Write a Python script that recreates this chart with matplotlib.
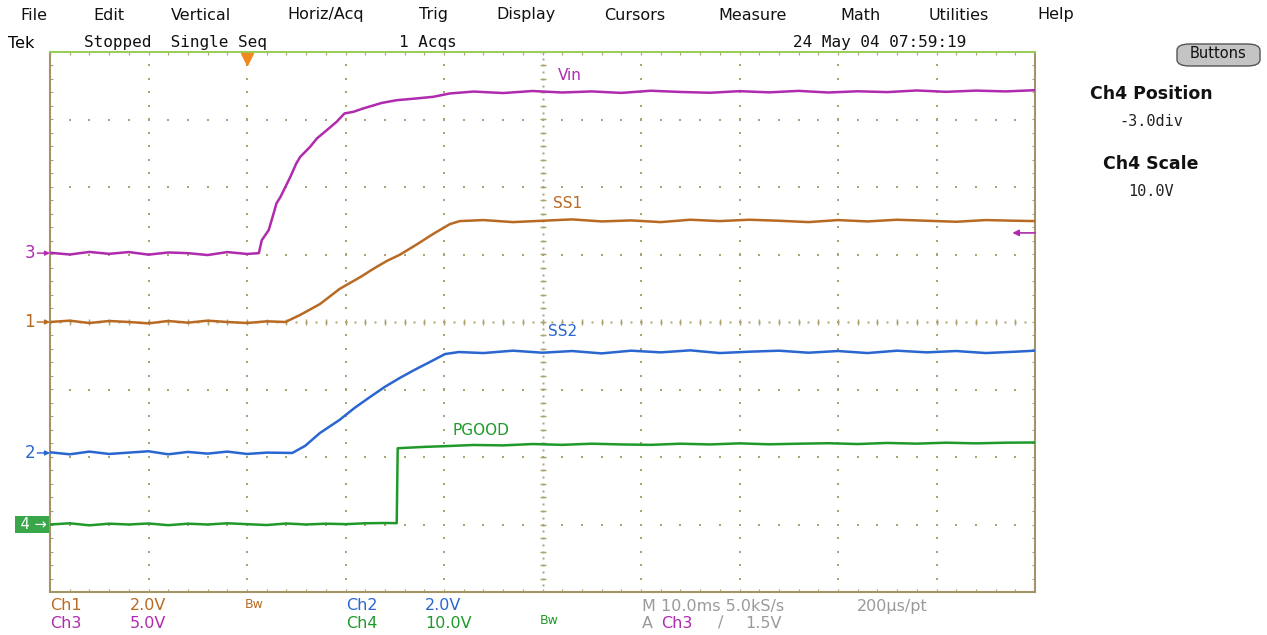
import matplotlib
matplotlib.use("Agg")
import matplotlib.pyplot as plt
from matplotlib.patches import FancyBboxPatch
import numpy as np

# ---------------- data (time in ms, values in volts) ----------------
vin_t = [0, 2, 4, 6, 8, 10, 12, 14, 16, 18, 20, 21.2,
         21.5, 22.2, 22.5, 23.0, 23.4, 23.9, 24.4, 25.0, 25.4, 26.4, 27.1, 28.1,
         29.1, 29.9, 30.8, 31.8, 33.7, 35.2, 37.2, 38.9, 40.6,
         43, 46, 49, 52, 55, 58, 61, 64, 67, 70, 73, 76, 79, 82, 85, 88, 91, 94, 97, 100]
vin_v = [0.03, -0.10, 0.09, -0.05, 0.08, -0.11, 0.05, 0.0, -0.14, 0.08, -0.06, 0.0,
         0.96, 1.70, 2.44, 3.70, 4.17, 4.91, 5.65, 6.64, 7.13, 7.87, 8.50, 9.11,
         9.73, 10.35, 10.47, 10.72, 11.13, 11.33, 11.46, 11.58, 11.83,
         11.97, 11.86, 12.01, 11.90, 11.98, 11.87, 12.03, 11.94, 11.88, 12.00, 11.91, 12.02,
         11.90, 11.99, 11.93, 12.05, 11.95, 12.04, 11.98, 12.07]

ss1_t = [0, 2, 4, 6, 8, 10, 12, 14, 16, 18, 20, 22,
         23.9, 25.4, 27.4, 29.4, 31.5, 32.8, 34.2, 35.5, 37.3, 38.9, 40.6, 41.6,
         44, 47, 50, 53, 56, 59, 62, 65, 68, 71, 74, 77, 80, 83, 86, 89, 92, 95, 98, 100]
ss1_v = [0.0, 0.04, -0.03, 0.03, 0.0, -0.04, 0.03, -0.02, 0.04, 0.0, -0.03, 0.02,
         0.0, 0.21, 0.53, 0.98, 1.33, 1.57, 1.81, 1.99, 2.31, 2.61, 2.90, 2.99,
         3.02, 2.96, 3.00, 3.04, 2.98, 3.01, 2.96, 3.03, 2.99, 3.03, 3.00, 2.96,
         3.02, 2.98, 3.03, 3.00, 2.97, 3.02, 3.00, 2.99]

ss2_t = [0, 2, 4, 6, 8, 10, 12, 14, 16, 18, 20, 22,
         24.6, 25.9, 27.4, 29.4, 30.9, 32.5, 34.0, 35.5, 37.0, 38.6, 40.1, 41.5,
         44, 47, 50, 53, 56, 59, 62, 65, 68, 71, 74, 77, 80, 83, 86, 89, 92, 95, 98, 100]
ss2_v = [0.02, -0.04, 0.04, -0.03, 0.01, 0.05, -0.04, 0.03, -0.02, 0.04, -0.03, 0.01,
         0.0, 0.21, 0.59, 0.98, 1.33, 1.66, 1.96, 2.22, 2.46, 2.70, 2.93, 2.99,
         2.96, 3.03, 2.97, 3.02, 2.95, 3.03, 2.98, 3.04, 2.96, 3.00, 3.03, 2.97,
         3.02, 2.96, 3.03, 2.98, 3.02, 2.96, 3.00, 3.03]

pg_t = [0, 2, 4, 6, 8, 10, 12, 14, 16, 18, 20, 22, 24, 26, 28, 30, 32, 34,
        35.2, 35.3, 36, 38, 40,
        43, 46, 49, 52, 55, 58, 61, 64, 67, 70, 73, 76, 79, 82, 85, 88, 91, 94, 97, 100]
pg_v = [0.0, 0.18, -0.12, 0.12, 0.0, 0.15, -0.1, 0.12, 0.0, 0.18, 0.05, -0.08, 0.15, 0.0,
        0.12, 0.05, 0.18, 0.22, 0.2,
        11.3, 11.35, 11.5, 11.6,
        11.78, 11.72, 11.92, 11.8, 11.97, 11.86, 11.8, 11.97, 11.86, 12.02, 11.88, 11.97,
        12.04, 11.92, 12.08, 11.98, 12.12, 12.02, 12.12, 12.15]

# channel settings: (volts/div, position in div)
ch_scale = {"ch1": 2.0, "ch2": 2.0, "ch3": 5.0, "ch4": 10.0}
ch_pos = {"ch1": 0.0, "ch2": -1.94, "ch3": 1.02, "ch4": -3.0}
trig_level = 1.5      # V on Ch3
trig_time = 20.0      # ms
labels = ["Vin", "SS1", "SS2", "PGOOD"]

# ---------------- style ----------------
C1 = "#b86a22"
C2 = "#2a66d0"
C3 = "#b02aae"
C4 = "#1f9a2a"
GRID = "#aea270"
GRAY = "#9a9a9a"

W, H = 1267, 635
fig = plt.figure(figsize=(W / 100, H / 100), dpi=100)
fig.patch.set_facecolor("white")

def fx(x):
    return x / W

def fy(y):
    return 1 - y / H

ax = fig.add_axes([fx(50), fy(592), 985 / W, 540 / H])
ax.set_xlim(0, 100)
ax.set_ylim(-4, 4)
ax.set_xticks([])
ax.set_yticks([])
ax.spines["top"].set_color("#9acd5a")
ax.spines["left"].set_color("#a39466")
ax.spines["right"].set_color("#a39466")
ax.spines["bottom"].set_color("#a39466")
for s in ax.spines.values():
    s.set_linewidth(1.5)

# graticule dots
minor_x = np.arange(0, 100.01, 2)
minor_y = np.arange(-4, 4.01, 0.2)
for gx in range(10, 100, 10):
    if gx == 50:
        continue
    ax.plot([gx] * len(minor_y), minor_y, ls="none", marker="s", ms=1.6, color=GRID, mew=0)
for gy in range(-3, 4):
    if gy == 0:
        continue
    ax.plot(minor_x, [gy] * len(minor_x), ls="none", marker="s", ms=1.6, color=GRID, mew=0)
# center cross with small ticks
ax.plot([50] * len(minor_y), minor_y, ls="none", marker="_", ms=4, color=GRID, mew=1)
ax.plot(minor_x, [0] * len(minor_x), ls="none", marker="|", ms=4, color=GRID, mew=1)
cy = np.arange(-4, 4.01, 0.1)
ax.plot([50] * len(cy), cy, ls="none", marker="s", ms=1.4, color=GRID, mew=0)
cx = np.arange(0, 100.01, 1)
ax.plot(cx, [0] * len(cx), ls="none", marker="s", ms=1.4, color=GRID, mew=0)
# border ticks
ax.plot(minor_x, [4] * len(minor_x), ls="none", marker="|", ms=5, color=GRID, mew=0.8)
ax.plot(minor_x, [-4] * len(minor_x), ls="none", marker="|", ms=5, color=GRID, mew=0.8)
ax.plot([0] * len(minor_y), minor_y, ls="none", marker="_", ms=5, color=GRID, mew=0.8)
ax.plot([100] * len(minor_y), minor_y, ls="none", marker="_", ms=5, color=GRID, mew=0.8)

# ---------------- traces ----------------
def to_div(v, ch):
    return np.asarray(v) / ch_scale[ch] + ch_pos[ch]

ax.plot(vin_t, to_div(vin_v, "ch3"), color=C3, lw=1.8, zorder=5)
ax.plot(ss1_t, to_div(ss1_v, "ch1"), color=C1, lw=1.8, zorder=5)
ax.plot(ss2_t, to_div(ss2_v, "ch2"), color=C2, lw=1.8, zorder=5)
ax.plot(pg_t, to_div(pg_v, "ch4"), color=C4, lw=1.8, zorder=5)

# trace labels
lab_kw = dict(fontsize=11, family="DejaVu Sans", va="center", ha="left")
ax.text(51.6, to_div(11.93, "ch3") + 0.25, labels[0], color=C3, **lab_kw)
ax.text(51.1, to_div(3.0, "ch1") + 0.25, labels[1], color=C1, **lab_kw)
ax.text(50.6, to_div(3.0, "ch2") + 0.3, labels[2], color=C2, **lab_kw)
ax.text(40.9, to_div(11.9, "ch4") + 0.2, labels[3], color=C4, **lab_kw)

# ground markers on the left
for ch, num, col in [("ch3", "3", C3), ("ch1", "1", C1), ("ch2", "2", C2)]:
    p = ch_pos[ch]
    ax.text(-1.5, p, num, color=col, fontsize=12, ha="right", va="center",
            family="DejaVu Sans", clip_on=False)
    ax.annotate("", xy=(0, p), xytext=(-1.3, p), annotation_clip=False,
                arrowprops=dict(arrowstyle="-|>", color=col, lw=1.0,
                                mutation_scale=7, shrinkA=0, shrinkB=0))
ax.text(-0.3, ch_pos["ch4"], " 4 \u2192", color="white", fontsize=10.5, ha="right",
        va="center", family="DejaVu Sans", clip_on=False,
        bbox=dict(boxstyle="square,pad=0.1", fc="#3aa64a", ec="none"))

# trigger position marker (top) and level marker (right)
ax.plot([trig_time], [3.9], marker="v", ms=8, color="#f08a1c", clip_on=False, zorder=6)
tl = to_div(trig_level, "ch3")
ax.annotate("", xy=(97.7, tl), xytext=(100, tl), annotation_clip=False,
            arrowprops=dict(arrowstyle="-|>", color=C3, lw=1.2,
                            mutation_scale=9, shrinkA=0, shrinkB=0))

# ---------------- menu & status text ----------------
menu = [("File", 20), ("Edit", 93), ("Vertical", 171), ("Horiz/Acq", 287), ("Trig", 419),
        ("Display", 496), ("Cursors", 604), ("Measure", 718), ("Math", 840),
        ("Utilities", 929), ("Help", 1037)]
for name, x in menu:
    fig.text(fx(x), fy(15), name, fontsize=11.5, family="DejaVu Sans", ha="left",
             va="center", color="#111111")

mono = dict(family="DejaVu Sans Mono", va="center", ha="left")
fig.text(fx(8), fy(43), "Tek", fontsize=11.5, family="DejaVu Sans", va="center", ha="left")
fig.text(fx(84), fy(43), "Stopped  Single Seq", fontsize=11.5, color="#111111", **mono)
fig.text(fx(399), fy(43), "1 Acqs", fontsize=11.5, color="#111111", **mono)
fig.text(fx(793), fy(43), "24 May 04 07:59:19", fontsize=11.5, color="#111111", **mono)

# right panel
btn = FancyBboxPatch((fx(1177), fy(66)), fx(83), 22 / H, transform=fig.transFigure,
                     boxstyle="round,pad=0.0,rounding_size=0.01", fc="#c4c4c4",
                     ec="#555555", lw=1.0)
fig.patches.append(btn)
fig.text(fx(1218), fy(54), "Buttons", fontsize=10.5, family="DejaVu Sans",
         ha="center", va="center", color="#111111")
fig.text(fx(1151), fy(94), "Ch4 Position", fontsize=12.5, weight="bold",
         family="DejaVu Sans", ha="center", va="center", color="#111111")
fig.text(fx(1151), fy(122), "-3.0div", fontsize=11, family="DejaVu Sans Mono",
         ha="center", va="center", color="#222222")
fig.text(fx(1151), fy(164), "Ch4 Scale", fontsize=12.5, weight="bold",
         family="DejaVu Sans", ha="center", va="center", color="#111111")
fig.text(fx(1151), fy(192), "10.0V", fontsize=11, family="DejaVu Sans Mono",
         ha="center", va="center", color="#222222")

# bottom readout
bt = dict(fontsize=11.5, family="DejaVu Sans", va="center", ha="left")
fig.text(fx(50), fy(606), "Ch1", color=C1, **bt)
fig.text(fx(130), fy(606), "2.0V", color=C1, **bt)
fig.text(fx(245), fy(604), "Bw", color=C1, fontsize=9, family="DejaVu Sans", va="center")
fig.text(fx(346), fy(606), "Ch2", color=C2, **bt)
fig.text(fx(425), fy(606), "2.0V", color=C2, **bt)
fig.text(fx(50), fy(623), "Ch3", color=C3, **bt)
fig.text(fx(130), fy(623), "5.0V", color=C3, **bt)
fig.text(fx(346), fy(623), "Ch4", color=C4, **bt)
fig.text(fx(425), fy(623), "10.0V", color=C4, **bt)
fig.text(fx(540), fy(621), "Bw", color=C4, fontsize=9, family="DejaVu Sans", va="center")
fig.text(fx(642), fy(606), "M 10.0ms 5.0kS/s", color=GRAY, **bt)
fig.text(fx(857), fy(606), "200\u00b5s/pt", color=GRAY, **bt)
fig.text(fx(642), fy(623), "A", color=GRAY, **bt)
fig.text(fx(661), fy(623), "Ch3", color=C3, **bt)
fig.text(fx(718), fy(623), "\u2215", color=GRAY, **bt)
fig.text(fx(745), fy(623), "1.5V", color=GRAY, **bt)

fig.savefig("out.png", dpi=100, facecolor="white")
